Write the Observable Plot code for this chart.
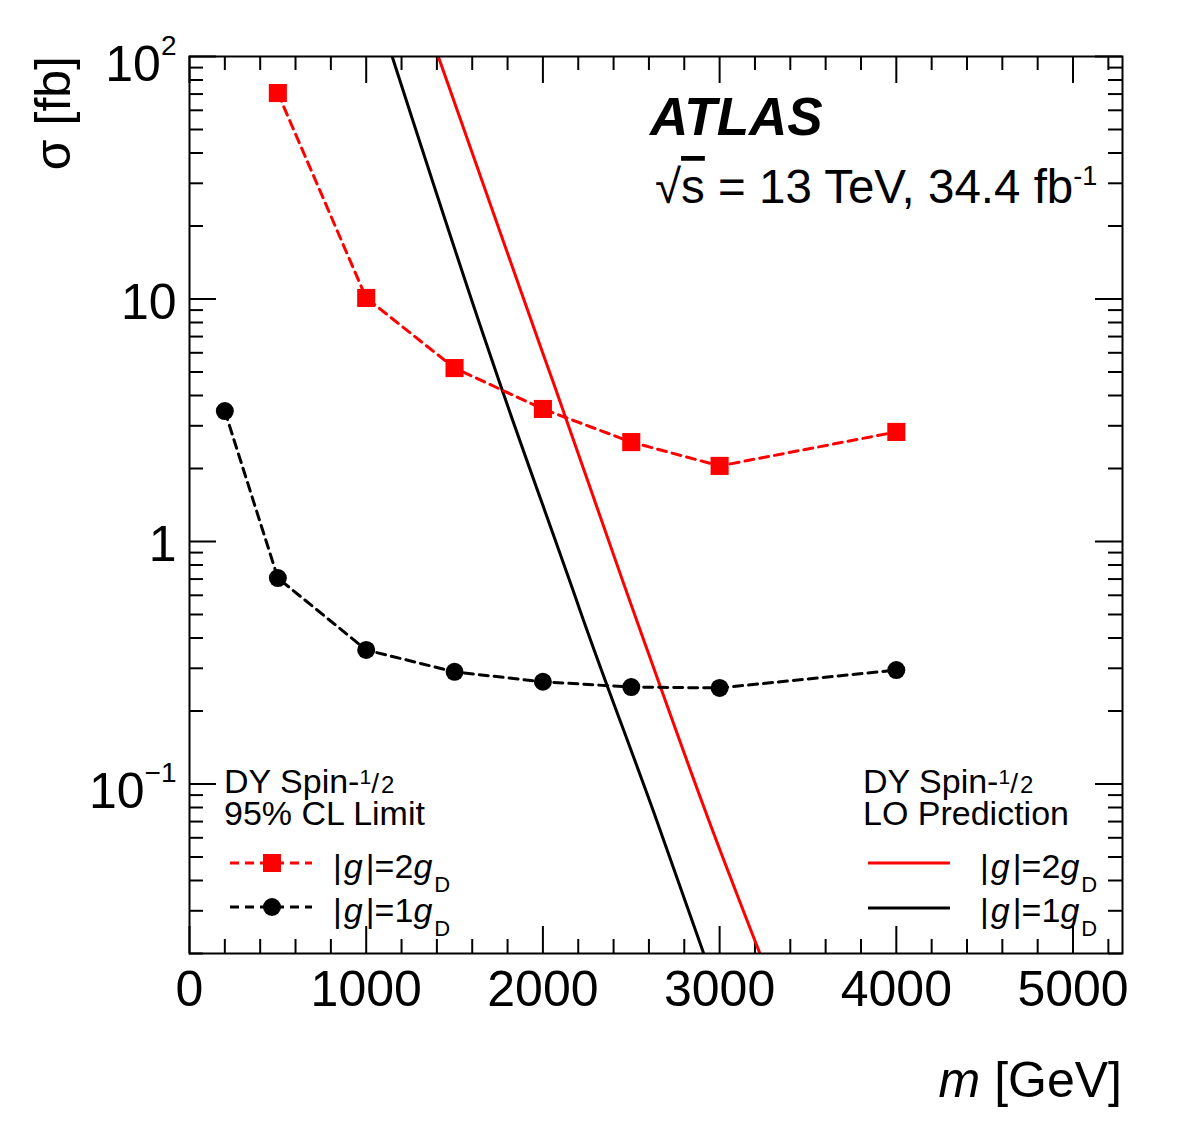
<!DOCTYPE html>
<html>
<head>
<meta charset="utf-8">
<script src="https://cdn.jsdelivr.net/npm/d3@7"></script>
<script src="https://cdn.jsdelivr.net/npm/@observablehq/plot@0.6"></script>
<style>
  body { margin: 0; background: #fff; }
  svg { display: block; }
</style>
</head>
<body>
<div id="chart"></div>
<script>
// 95% CL observed limits, |g| = 2 g_D (red squares)
const massLimitG2  = [500, 1000, 1500, 2000, 2500, 3000, 4000];
const sigmaLimitG2 = [70.7, 10.1, 5.19, 3.52, 2.57, 2.05, 2.83];

// 95% CL observed limits, |g| = 1 g_D (black circles)
const massLimitG1  = [200, 500, 1000, 1500, 2000, 2500, 3000, 4000];
const sigmaLimitG1 = [3.45, 0.707, 0.357, 0.290, 0.264, 0.251, 0.249, 0.295];

// LO Drell-Yan predictions for spin-1/2 monopoles
const massPredG2  = [1408, 1969, 2054, 2450, 2530, 2938, 3227];
const sigmaPredG2 = [100, 6.9, 4.63, 0.693, 0.475, 0.0711, 0.0201];
const massPredG1  = [1147, 1669, 1750, 2150, 2229, 2643, 2909];
const sigmaPredG1 = [100, 6.9, 4.63, 0.693, 0.475, 0.0711, 0.0201];

// axis ticks and labels
const xMajorTicks = [0, 1000, 2000, 3000, 4000, 5000];
const xMinorTicks = [200, 400, 600, 800, 1200, 1400, 1600, 1800, 2200, 2400, 2600, 2800,
                     3200, 3400, 3600, 3800, 4200, 4400, 4600, 4800, 5200];
const yMajorTicks = [0.1, 1, 10, 100];
const yMinorTicks = [0.02, 0.03, 0.04, 0.05, 0.06, 0.07, 0.08, 0.09,
                     0.2, 0.3, 0.4, 0.5, 0.6, 0.7, 0.8, 0.9,
                     2, 3, 4, 5, 6, 7, 8, 9,
                     20, 30, 40, 50, 60, 70, 80, 90];
const yPlainLabelValues = [10, 1];
const yPlainLabels = ["10", "1"];
const yPowerLabelValues = [100, 0.1];
const yPowerLabelBase = ["10", "10"];
const yPowerLabelExp = ["2", "\u22121"];

const toRows = (ms, ss) => ms.map((m, i) => ({m, sigma: ss[i]}));
const limitG2 = toRows(massLimitG2, sigmaLimitG2);
const limitG1 = toRows(massLimitG1, sigmaLimitG1);
const predG2 = toRows(massPredG2, sigmaPredG2);
const predG1 = toRows(massPredG1, sigmaPredG1);

const W = 1182, H = 1136;
const mT = 56, mB = 183, mL = 189, mR = 60;
const pW = W - mL - mR, pH = H - mT - mB;
const RED = "#ff0000";
const FONT = "'Liberation Sans', Arial, Helvetica, sans-serif";
const MAJ = 27, MIN = 14;

const svg = Plot.plot({
  width: W,
  height: H,
  marginTop: mT,
  marginBottom: mB,
  marginLeft: mL,
  marginRight: mR,
  style: {fontFamily: FONT, background: "#fff", color: "#000"},
  x: {domain: [0, 5280], axis: null},
  y: {type: "log", domain: [0.02, 100], axis: null},
  marks: [
    // inward ticks on all four sides
    Plot.tickX(xMajorTicks, {x: Plot.identity, insetTop: pH - MAJ, strokeWidth: 2}),
    Plot.tickX(xMinorTicks, {x: Plot.identity, insetTop: pH - MIN, strokeWidth: 2}),
    Plot.tickX(xMajorTicks, {x: Plot.identity, insetBottom: pH - MAJ, strokeWidth: 2}),
    Plot.tickX(xMinorTicks, {x: Plot.identity, insetBottom: pH - MIN, strokeWidth: 2}),
    Plot.tickY(yMajorTicks, {y: Plot.identity, insetRight: pW - MAJ, strokeWidth: 2}),
    Plot.tickY(yMinorTicks, {y: Plot.identity, insetRight: pW - MIN, strokeWidth: 2}),
    Plot.tickY(yMajorTicks, {y: Plot.identity, insetLeft: pW - MAJ, strokeWidth: 2}),
    Plot.tickY(yMinorTicks, {y: Plot.identity, insetLeft: pW - MIN, strokeWidth: 2}),

    // tick labels
    Plot.text(xMajorTicks, {x: Plot.identity, text: d => String(d), frameAnchor: "bottom",
      lineAnchor: "top", dy: 17, fontSize: 50}),
    Plot.text(yPlainLabelValues, {y: Plot.identity, text: (d, i) => yPlainLabels[i],
      frameAnchor: "left", textAnchor: "end", dx: -13, dy: 4, fontSize: 50}),
    Plot.text(yPowerLabelValues, {y: Plot.identity, text: (d, i) => yPowerLabelBase[i],
      frameAnchor: "left", textAnchor: "end", dx: -13, dy: 8, fontSize: 50,
      className: "ypow"}),

    // LO predictions
    Plot.line(predG2, {x: "m", y: "sigma", stroke: RED, strokeWidth: 3, curve: "monotone-x", clip: true}),
    Plot.line(predG1, {x: "m", y: "sigma", stroke: "#000", strokeWidth: 3, curve: "monotone-x", clip: true}),

    // observed limits
    Plot.line(limitG2, {x: "m", y: "sigma", stroke: RED, strokeWidth: 3, strokeDasharray: "9,6"}),
    Plot.dot(limitG2, {x: "m", y: "sigma", symbol: "square", r: 10.2, fill: RED, stroke: "none"}),
    Plot.line(limitG1, {x: "m", y: "sigma", stroke: "#000", strokeWidth: 3, strokeDasharray: "9,6"}),
    Plot.dot(limitG1, {x: "m", y: "sigma", symbol: "circle", r: 9, fill: "#000", stroke: "none"}),

    Plot.frame({stroke: "#000", strokeWidth: 2})
  ]
});

document.getElementById("chart").appendChild(svg);
const root = d3.select(svg);

// exponents on the power-of-ten labels
root.selectAll(".ypow text").each(function (_, j) {
  d3.select(this).append("tspan")
    .attr("dy", -26)
    .attr("font-size", 28)
    .text(yPowerLabelExp[j]);
});

// rich text helper: parts = [{t, size, dy, dx, italic, bold, deco}]
function richText(x, y, parts, attrs = {}) {
  const t = root.append("text")
    .attr("x", x).attr("y", y)
    .attr("font-family", FONT)
    .attr("text-anchor", "start")
    .attr("fill", "#000");
  for (const [k, v] of Object.entries(attrs)) t.attr(k, v);
  for (const p of parts) {
    const s = t.append("tspan").text(p.t);
    if (p.size) s.attr("font-size", p.size);
    if (p.dy) s.attr("dy", p.dy);
    if (p.dx) s.attr("dx", p.dx);
    if (p.italic) s.attr("font-style", "italic");
    if (p.bold) s.attr("font-weight", "bold");
    if (p.deco) s.style("text-decoration", p.deco);
  }
  return t;
}

// axis titles
richText(70, 56, [{t: "\u03c3 [fb]"}], {
  "font-size": 50, "text-anchor": "end", transform: "rotate(-90, 70, 56)"
});
richText(1122, 1097, [{t: "m", italic: true}, {t: " [GeV]"}], {"font-size": 50, "text-anchor": "end"});

// experiment label
richText(650, 135, [{t: "ATLAS", italic: true, bold: true}], {"font-size": 53});
richText(655, 203, [
  {t: "\u221a"}, {t: "s", deco: "overline"},
  {t: " = 13 TeV, 34.4 fb"},
  {t: "-1", size: 27, dy: -18}
], {"font-size": 47.5});

// legend building blocks
const spinHalf = (x, y) => richText(x, y, [
  {t: "DY Spin-"},
  {t: "1", size: 21, dy: -9},
  {t: "/", size: 28, dy: 9},
  {t: "2", size: 24, dx: 2}
], {"font-size": 34});

const couplingLabel = (x, y, n) => richText(x, y, [
  {t: "|"}, {t: "g", italic: true, dx: 2}, {t: "|", dx: 3}, {t: "=" + n},
  {t: "g", italic: true}, {t: "D", size: 22, dy: 14, dx: 2}
], {"font-size": 34});

// left legend: observed limits
spinHalf(224, 793);
richText(224, 825, [{t: "95% CL Limit"}], {"font-size": 34});
root.append("line").attr("x1", 230).attr("x2", 312).attr("y1", 863).attr("y2", 863)
  .attr("stroke", RED).attr("stroke-width", 3).attr("stroke-dasharray", "9,6");
root.append("rect").attr("x", 263).attr("y", 854).attr("width", 18).attr("height", 18).attr("fill", RED);
couplingLabel(333, 878, "2");
root.append("line").attr("x1", 230).attr("x2", 312).attr("y1", 907).attr("y2", 907)
  .attr("stroke", "#000").attr("stroke-width", 3).attr("stroke-dasharray", "9,6");
root.append("circle").attr("cx", 272).attr("cy", 907).attr("r", 9).attr("fill", "#000");
couplingLabel(333, 922, "1");

// right legend: LO predictions
spinHalf(863, 793);
richText(863, 825, [{t: "LO Prediction"}], {"font-size": 34});
root.append("line").attr("x1", 868).attr("x2", 950).attr("y1", 863).attr("y2", 863)
  .attr("stroke", RED).attr("stroke-width", 3);
couplingLabel(980, 878, "2");
root.append("line").attr("x1", 868).attr("x2", 950).attr("y1", 908).attr("y2", 908)
  .attr("stroke", "#000").attr("stroke-width", 3);
couplingLabel(980, 922, "1");
</script>
</body>
</html>
